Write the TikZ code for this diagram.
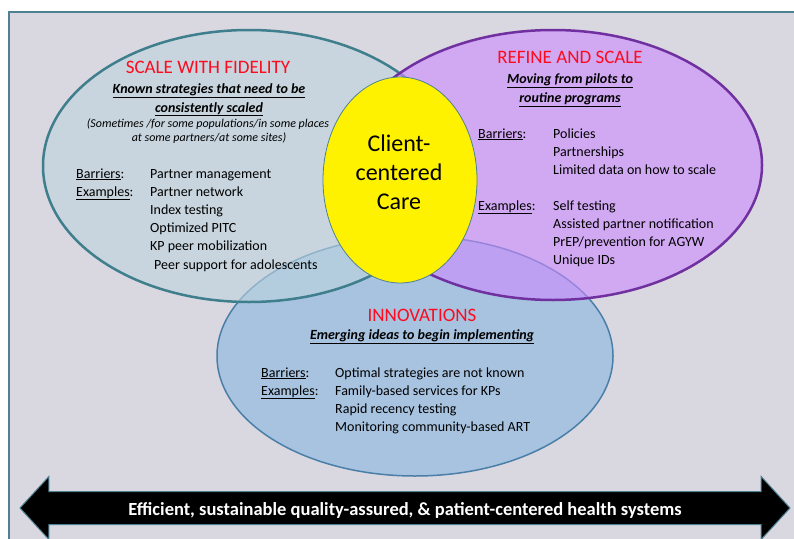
\documentclass[tikz,border=0pt]{standalone}
\usepackage{fontspec}
\setmainfont{Carlito}
\usetikzlibrary{shapes, positioning}
\definecolor{panelgray}{HTML}{D9D7E0}
\definecolor{frameteal}{HTML}{4F8193}
\definecolor{fidelityfill}{HTML}{BED4DE}
\definecolor{fidelityline}{HTML}{3F7E8C}
\definecolor{refinefill}{HTML}{CD8AFE}
\definecolor{refineline}{HTML}{7030A0}
\definecolor{innovfill}{HTML}{A7C3E0}
\definecolor{innovline}{HTML}{4A7FA8}
\definecolor{headred}{HTML}{FF0A1E}

\begin{document}
\begin{tikzpicture}[x=1pt, y=-1pt,
                    region/.style={ellipse, draw, line width=2.5pt, fill opacity=0.6, inner sep=0pt},
                    heading/.style={font=\fontsize{19}{22}\selectfont, text=headred},
                    tagline/.style={font=\fontsize{14}{18}\selectfont\bfseries\itshape, anchor=base},
                    remark/.style={font=\fontsize{12}{14}\selectfont\itshape},
                    rowlabel/.style={font=\fontsize{14}{17}\selectfont, anchor=base west, inner sep=0pt},
                    entry/.style={font=\fontsize{14}{17}\selectfont, anchor=base west, inner sep=0pt},
                    ]

    % Canvas and panel
    \useasboundingbox (0,0) rectangle (794,538);
    \fill[white] (0,0) rectangle (794,538);
    \draw[frameteal, line width=2pt, fill=panelgray] (9,12) rectangle (810,560);

    % Circles of the diagram
    \node[region, draw=innovline, line width=1.5pt, fill=innovfill, fill opacity=1, minimum width=396pt, minimum height=240pt] (innovations) at (415,356) {};
    \node[region, draw=fidelityline, fill=fidelityfill, minimum width=412pt, minimum height=272pt] (fidelity) at (249,166) {};
    \node[region, draw=refineline, fill=refinefill, minimum width=418pt, minimum height=270pt] (refine) at (553,165) {};
    \node[ellipse, draw=frameteal, line width=0.8pt, fill=yellow, minimum width=154pt, minimum height=206pt] (care) at (400,180) {};
    \node[font=\fontsize{24}{29}\selectfont, align=center, inner sep=0pt] (care_text) at (399,172) {Client-\\centered\\Care};

    % Scale with fidelity
    \node[heading] (fidelity_title) at (208,67) {SCALE WITH FIDELITY};
    \node[tagline] (fidelity_tagline1) at (209,93) {\underline{Known strategies that need to be}};
    \node[tagline] (fidelity_tagline2) at (209,112) {\underline{consistently scaled}};
    \node[remark] (fidelity_remark1) at (208,124) {(Sometimes /for some populations/in some places};
    \node[remark] (fidelity_remark2) at (209,138) {at some partners/at some sites)};
    \node[rowlabel] (fidelity_barriers) at (76,178) {\underline{Barriers}:};
    \node[rowlabel] (fidelity_examples) at (76,196) {\underline{Examples}:};
    \foreach \txt [count=\i] in {Partner management, Partner network, Index testing, Optimized PITC, KP peer mobilization}
        \node[entry] (fidelity_item\i) at (150,178+18*\i-18) {\txt};
    \node[entry] (fidelity_item6) at (154,269) {Peer support for adolescents};

    % Refine and scale
    \node[heading] (refine_title) at (570,57) {REFINE AND SCALE};
    \node[tagline] (refine_tagline1) at (570,83) {\underline{Moving from pilots to}};
    \node[tagline] (refine_tagline2) at (570,102) {\underline{routine programs}};
    \node[rowlabel] (refine_barriers) at (478,138) {\underline{Barriers}:};
    \node[rowlabel] (refine_examples) at (478,210) {\underline{Examples}:};
    \foreach \txt [count=\i] in {Policies, Partnerships, Limited data on how to scale}
        \node[entry] (refine_barrier\i) at (553,138+18*\i-18) {\txt};
    \foreach \txt [count=\i] in {Self testing, Assisted partner notification, PrEP/prevention for AGYW, Unique IDs}
        \node[entry] (refine_item\i) at (553,210+18.3*\i-18.3) {\txt};

    % Innovations
    \node[heading] (innov_title) at (422,315) {INNOVATIONS};
    \node[tagline] (innov_tagline) at (422,339) {\underline{Emerging ideas to begin implementing}};
    \node[rowlabel] (innov_barriers) at (261,377) {\underline{Barriers}:};
    \node[rowlabel] (innov_examples) at (261,395) {\underline{Examples}:};
    \foreach \txt [count=\i] in {Optimal strategies are not known, Family-based services for KPs, Rapid recency testing, Monitoring community-based ART}
        \node[entry] (innov_item\i) at (335,377+18*\i-18) {\txt};

    % Health systems arrow
    \node[double arrow, draw=frameteal, line width=1pt, fill=black, text=white,
          font=\fontsize{18.5}{20}\selectfont\bfseries, minimum height=770pt,
          double arrow head extend=15pt, double arrow tip angle=95,
          text height=14pt, text depth=0pt, inner ysep=9pt] (health_systems) at (405,508)
          {Efficient, sustainable quality-assured, \& patient-centered health systems};

\end{tikzpicture}
\end{document}
